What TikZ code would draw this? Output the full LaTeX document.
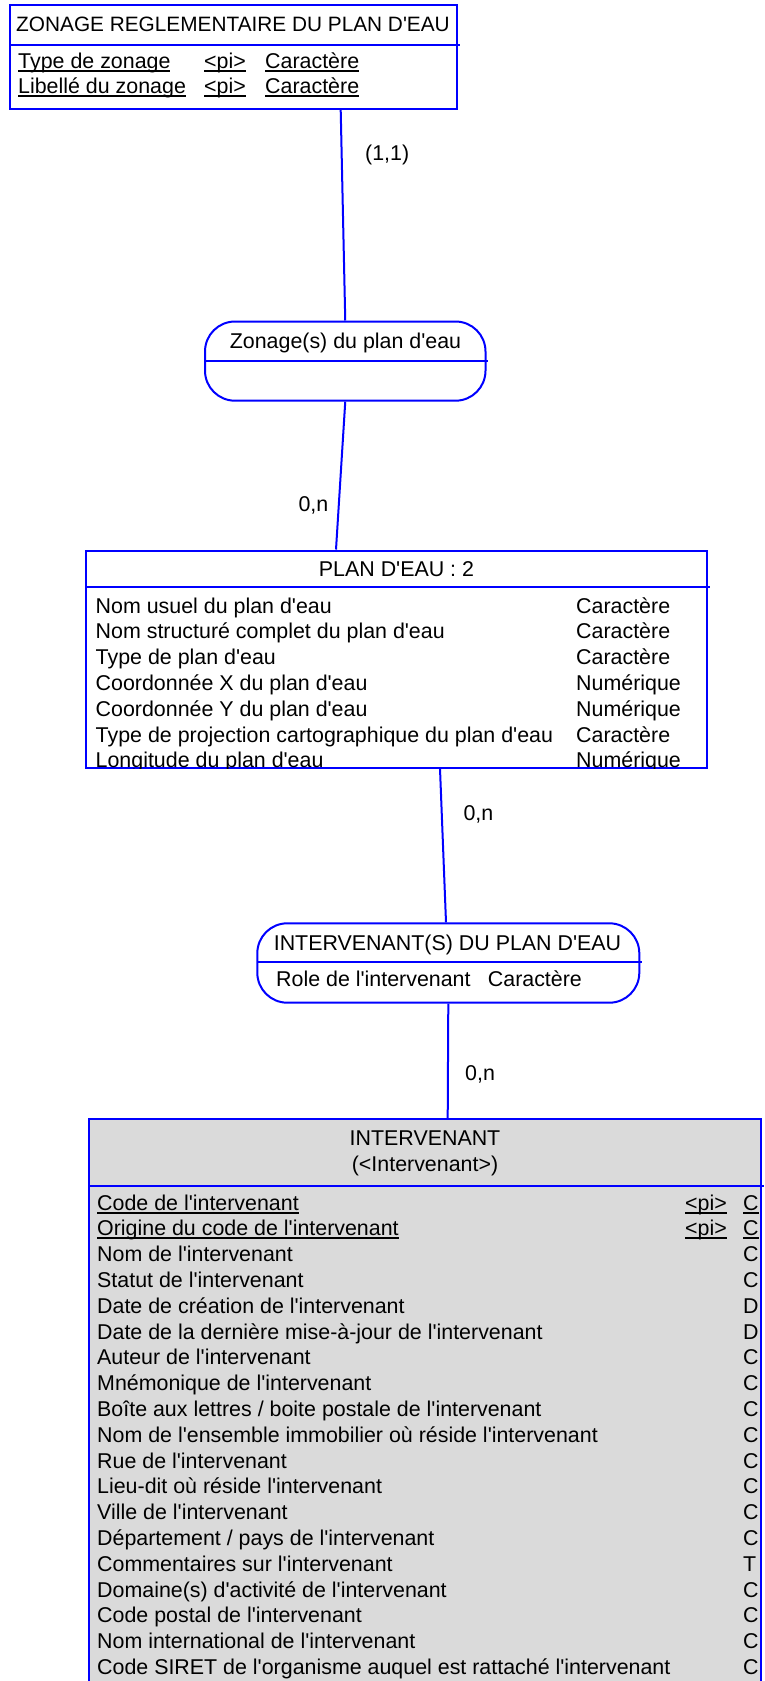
\documentclass[tikz,border=0pt]{standalone}
\usepackage{fontspec}
\setmainfont{Liberation Sans}[Ligatures=TeXOff]
\newsavebox{\undlbox}
\newcommand{\undl}[1]{\sbox{\undlbox}{#1}\rlap{\rule[-3.5pt]{\wd\undlbox}{2pt}}\usebox{\undlbox}}

\begin{document}
\begin{tikzpicture}[x=1pt, y=-1pt,
  font=\fontsize{21.4pt}{25.8pt}\selectfont,
  box/.style={draw=mcdblue, line width=2pt, rectangle, inner sep=0pt},
  assoc/.style={box, rounded corners=30pt},
  sep/.style={draw=mcdblue, line width=2pt},
  link/.style={draw=mcdblue, line width=2pt},
  txt/.style={anchor=base west, inner sep=0pt},
  ctxt/.style={anchor=base, inner sep=0pt}]
\definecolor{mcdblue}{HTML}{0000FF}
\definecolor{entgray}{HTML}{DADADA}
\useasboundingbox (0,0) rectangle (765,1681);

\node[box, minimum width=447pt, minimum height=104pt] (zonage) at (233,57) {};
\draw[sep] (9.5,45) -- (460,45);
\node[ctxt, font=\fontsize{20.8pt}{25.8pt}\selectfont] (zonagetitle) at (233,31.7) {ZONAGE REGLEMENTAIRE DU PLAN D'EAU};
\node[txt] (zonagea1) at (18,68.3) {\undl{Type de zonage}};
\node[txt] (zonagep1) at (204,68.3) {\undl{<pi>}};
\node[txt] (zonaget1) at (265,68.3) {\undl{Caractère}};
\node[txt] (zonagea2) at (18,93.5) {\undl{Libellé du zonage}};
\node[txt] (zonagep2) at (204,93.5) {\undl{<pi>}};
\node[txt] (zonaget2) at (265,93.5) {\undl{Caractère}};

\node[assoc, minimum width=280.5pt, minimum height=79.2pt] (zonas) at (345.25,361.1) {};
\draw[sep] (205,361) -- (488,361);
\node[ctxt] (zonastitle) at (345.5,348.3) {Zonage(s) du plan d'eau};

\node[box, minimum width=621pt, minimum height=217.2pt] (plan) at (396.5,659.1) {};
\draw[sep] (86,586.5) -- (710,586.5);
\node[ctxt] (plantitle) at (396.5,576) {PLAN D'EAU : 2};
\begin{scope}
\clip (plan.south west) rectangle (plan.north east);
\node[txt] (plana1) at (95.5,613) {Nom usuel du plan d'eau};
\node[txt] (plant1) at (576,613) {Caractère};
\node[txt] (plana2) at (95.5,638.8) {Nom structuré complet du plan d'eau};
\node[txt] (plant2) at (576,638.8) {Caractère};
\node[txt] (plana3) at (95.5,664.6) {Type de plan d'eau};
\node[txt] (plant3) at (576,664.6) {Caractère};
\node[txt] (plana4) at (95.5,690.4) {Coordonnée X du plan d'eau};
\node[txt] (plant4) at (576,690.4) {Numérique};
\node[txt] (plana5) at (95.5,716.2) {Coordonnée Y du plan d'eau};
\node[txt] (plant5) at (576,716.2) {Numérique};
\node[txt] (plana6) at (95.5,742) {Type de projection cartographique du plan d'eau};
\node[txt] (plant6) at (576,742) {Caractère};
\node[txt] (plana7) at (95.5,767.8) {Longitude du plan d'eau};
\node[txt] (plant7) at (576,767.8) {Numérique};
\end{scope}

\node[assoc, minimum width=382pt, minimum height=79.4pt] (intas) at (448.3,963) {};
\draw[sep] (257.3,961.7) -- (641.7,961.7);
\node[ctxt] (intastitle) at (447.5,950.7) {INTERVENANT(S) DU PLAN D'EAU};
\node[txt] (intasa1) at (276,986.7) {Role de l'intervenant};
\node[txt] (intast1) at (487.7,986.7) {Caractère};

\node[box, fill=entgray, minimum width=672pt, minimum height=581pt] (interv) at (425,1409.5) {};
\draw[sep] (89,1185.7) -- (764,1185.7);
\node[ctxt] (intervtitle) at (425,1145.7) {INTERVENANT};
\node[ctxt] (intervcode) at (425,1171.5) {(<Intervenant>)};
\node[txt] (interva1) at (97,1210) {\undl{Code de l'intervenant}};
\node[txt] (intervp1) at (685,1210) {\undl{<pi>}};
\node[txt] (intervt1) at (743,1210) {\undl{C}};
\node[txt] (interva2) at (97,1235.8) {\undl{Origine du code de l'intervenant}};
\node[txt] (intervp2) at (685,1235.8) {\undl{<pi>}};
\node[txt] (intervt2) at (743,1235.8) {\undl{C}};
\node[txt] (interva3) at (97,1261.6) {Nom de l'intervenant};
\node[txt] (intervt3) at (743,1261.6) {C};
\node[txt] (interva4) at (97,1287.4) {Statut de l'intervenant};
\node[txt] (intervt4) at (743,1287.4) {C};
\node[txt] (interva5) at (97,1313.2) {Date de création de l'intervenant};
\node[txt] (intervt5) at (743,1313.2) {D};
\node[txt] (interva6) at (97,1339) {Date de la dernière mise-à-jour de l'intervenant};
\node[txt] (intervt6) at (743,1339) {D};
\node[txt] (interva7) at (97,1364.8) {Auteur de l'intervenant};
\node[txt] (intervt7) at (743,1364.8) {C};
\node[txt] (interva8) at (97,1390.6) {Mnémonique de l'intervenant};
\node[txt] (intervt8) at (743,1390.6) {C};
\node[txt] (interva9) at (97,1416.4) {Boîte aux lettres / boite postale de l'intervenant};
\node[txt] (intervt9) at (743,1416.4) {C};
\node[txt] (interva10) at (97,1442.2) {Nom de l'ensemble immobilier où réside l'intervenant};
\node[txt] (intervt10) at (743,1442.2) {C};
\node[txt] (interva11) at (97,1468) {Rue de l'intervenant};
\node[txt] (intervt11) at (743,1468) {C};
\node[txt] (interva12) at (97,1493.8) {Lieu-dit où réside l'intervenant};
\node[txt] (intervt12) at (743,1493.8) {C};
\node[txt] (interva13) at (97,1519.6) {Ville de l'intervenant};
\node[txt] (intervt13) at (743,1519.6) {C};
\node[txt] (interva14) at (97,1545.4) {Département / pays de l'intervenant};
\node[txt] (intervt14) at (743,1545.4) {C};
\node[txt] (interva15) at (97,1571.2) {Commentaires sur l'intervenant};
\node[txt] (intervt15) at (743,1571.2) {T};
\node[txt] (interva16) at (97,1597) {Domaine(s) d'activité de l'intervenant};
\node[txt] (intervt16) at (743,1597) {C};
\node[txt] (interva17) at (97,1622.8) {Code postal de l'intervenant};
\node[txt] (intervt17) at (743,1622.8) {C};
\node[txt] (interva18) at (97,1648.6) {Nom international de l'intervenant};
\node[txt] (intervt18) at (743,1648.6) {C};
\node[txt] (interva19) at (97,1674.4) {Code SIRET de l'organisme auquel est rattaché l'intervenant};
\node[txt] (intervt19) at (743,1674.4) {C};

\draw[link] ([xshift=107.7pt]zonage.south) -- (zonas.north);
\node[txt] (card1) at (365,160) {(1,1)};
\draw[link] (zonas.south) -- ([xshift=-60.5pt]plan.north);
\node[txt] (card2) at (298.3,511) {0,n};
\draw[link] ([xshift=43.5pt]plan.south) -- ([xshift=-2.3pt]intas.north);
\node[txt] (card3) at (463.3,820) {0,n};
\draw[link] (intas.south) -- ([xshift=22.7pt]interv.north);
\node[txt] (card4) at (465,1080) {0,n};
\end{tikzpicture}
\end{document}
